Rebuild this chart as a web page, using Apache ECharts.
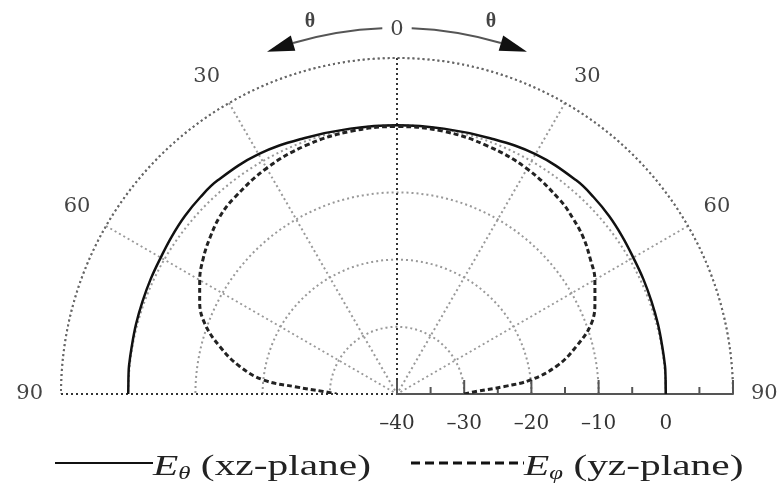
<!DOCTYPE html>
<html>
<head>
<meta charset="utf-8">
<script src="https://cdn.jsdelivr.net/npm/echarts@6/dist/echarts.min.js"></script>
<style>
  html, body { margin: 0; padding: 0; background: #fff; }
  #chart { width: 784px; height: 493px; }
</style>
</head>
<body>
<div id="chart"></div>
<script>
// Elevation angle (deg): positive to the left of broadside, negative to the right
const angles = [-90, -88, -86, -84, -80, -75, -70, -65, -60, -55, -50, -45, -40, -30, -20, -10, 0,
                10, 20, 30, 40, 45, 50, 55, 60, 65, 70, 75, 80, 84, 86, 88, 90];

// E-theta, xz-plane (dB)
const eTheta = [0, 0, 0.05, 0.1, 0.1, 0.2, 0.3, 0.45, 0.6, 0.9, 1.2, 1.4, 1.5, 1.2, 0.5, 0.1, 0,
                0.1, 0.5, 1.2, 1.5, 1.4, 1.2, 0.9, 0.6, 0.45, 0.3, 0.2, 0.1, 0.1, 0.05, 0, 0];

// E-phi, yz-plane (dB)
const ePhi = [-30, -28, -24, -20, -15.8, -12.3, -9.2, -7.5, -6.0, -4.9, -3.8, -3.0, -2.3, -1.3, -0.7, -0.3, -0.2,
              -0.3, -0.6, -1.2, -2.1, -2.7, -3.7, -4.8, -6.1, -7.6, -9.6, -12.7, -16.2, -20, -25, -29, -31];

// Angle and radius scales
const angleTicks = { min: -90, max: 90, step: 30 };
const radiusTicks = { min: -40, max: 10, step: 10 };
// Tick marks along the radial baseline (dB)
const radialTickValues = [-40, -35, -30, -25, -20, -15, -10, -5, 0, 5, 10];

// Legend entries
const legendItems = [
  { sub: 'θ', plane: ' (xz-plane)', dash: null },
  { sub: 'φ', plane: ' (yz-plane)', dash: [9, 5] }
];

const CENTER = [397, 394];
const RADIUS = 336;
const SERIF = '"Liberation Serif", "Times New Roman", serif';
const LABEL_FONT = '"DejaVu Serif", serif';

function pairs(values) {
  return angles.map((a, i) => [values[i], a]);
}

// Curved "theta" arrows around the broadside label
function arrowGraphics() {
  const r = 366;
  const toXY = (deg, rad) => {
    const t = (90 + deg) * Math.PI / 180;
    return [CENTER[0] + rad * Math.cos(t), CENTER[1] - rad * Math.sin(t)];
  };
  const items = [];
  [1, -1].forEach(side => {
    const a0 = 2.3 * side, a1 = 16.5 * side, tip = 20.8 * side;
    const s0 = -(90 + a0) * Math.PI / 180, s1 = -(90 + a1) * Math.PI / 180;
    items.push({
      type: 'arc',
      shape: { cx: CENTER[0], cy: CENTER[1], r: r, startAngle: Math.min(s0, s1), endAngle: Math.max(s0, s1) },
      style: { stroke: '#555', lineWidth: 2, fill: null },
      silent: true
    });
    const p1 = toXY(a1, r - 8), p2 = toXY(a1, r + 8), pt = toXY(tip, r);
    items.push({
      type: 'polygon',
      shape: { points: [p1, p2, pt] },
      style: { fill: '#111' },
      silent: true
    });
  });
  [[310, 22], [491, 22]].forEach(p => items.push({
    type: 'text',
    style: { text: 'θ', x: p[0], y: p[1], align: 'center', verticalAlign: 'middle',
             font: 'bold 20px ' + SERIF, fill: '#444' },
    silent: true
  }));
  return items;
}

// Legend: line sample followed by the field name with its subscript
function legendGraphics() {
  const rowY = 463;
  const starts = [[55, 153], [411, 524]];
  const items = [];
  legendItems.forEach((it, i) => {
    const [x0, x1] = starts[i];
    items.push({
      type: 'line',
      shape: { x1: x0, y1: rowY, x2: x1, y2: rowY },
      style: { stroke: '#111', lineWidth: it.dash ? 3 : 1.8, lineDash: it.dash || null },
      silent: true
    });
    items.push({
      type: 'text',
      x: x1, y: rowY + 4,
      scaleX: 1.38,
      style: {
        text: '{e|E}{s|' + it.sub + '}{t|' + it.plane + '}',
        verticalAlign: 'middle',
        rich: {
          e: { fontFamily: SERIF, fontStyle: 'italic', fontSize: 30, fill: '#222' },
          s: { fontFamily: SERIF, fontStyle: 'italic', fontSize: 18, fill: '#222', padding: [14, 0, 0, 0] },
          t: { fontFamily: SERIF, fontSize: 30, fill: '#222' }
        }
      },
      silent: true
    });
  });
  return items;
}

const chart = echarts.init(document.getElementById('chart'), null, { renderer: 'canvas' });

chart.setOption({
  animation: false,
  backgroundColor: '#fff',
  polar: { center: CENTER, radius: RADIUS },
  angleAxis: {
    type: 'value',
    min: angleTicks.min,
    max: angleTicks.max,
    interval: angleTicks.step,
    startAngle: 0,
    endAngle: 180,
    clockwise: false,
    axisLine: { show: true, lineStyle: { color: '#666', width: 2, type: [2, 3] } },
    axisTick: { show: false },
    axisLabel: {
      margin: 18,
      fontFamily: LABEL_FONT,
      fontSize: 21,
      color: '#444',
      formatter: v => String(Math.abs(v))
    },
    splitLine: {
      show: true,
      lineStyle: { color: ['#333', '#999', '#999', '#333', '#999', '#999', '#333'], width: 2, type: [2, 3] }
    }
  },
  radiusAxis: {
    type: 'value',
    min: radiusTicks.min,
    max: radiusTicks.max,
    interval: radiusTicks.step,
    axisLine: { show: true, lineStyle: { color: '#555', width: 2 } },
    axisTick: { show: false },
    axisLabel: {
      // negative margin moves the labels below the baseline
      margin: -30,
      verticalAlign: 'middle',
      fontFamily: LABEL_FONT,
      fontSize: 20,
      color: '#333',
      formatter: v => (v >= radiusTicks.max ? '' : (v < 0 ? '\u2013' + Math.abs(v) : String(v)))
    },
    splitLine: { show: true, lineStyle: { color: '#999', width: 2, type: [2, 3] } }
  },
  series: [
    {
      name: 'E\u03b8 (xz-plane)',
      type: 'line',
      coordinateSystem: 'polar',
      data: pairs(eTheta),
      smooth: 0.4,
      symbol: 'none',
      lineStyle: { color: '#111', width: 2.5 },
      z: 3
    },
    {
      name: 'E\u03c6 (yz-plane)',
      type: 'line',
      coordinateSystem: 'polar',
      data: pairs(ePhi),
      smooth: 0.4,
      symbol: 'none',
      lineStyle: { color: '#222', width: 3, type: [5, 3] },
      z: 3
    },
    {
      // upward tick marks on the radial baseline
      name: 'radial ticks',
      type: 'custom',
      coordinateSystem: 'polar',
      silent: true,
      data: radialTickValues.map(v => [v, angleTicks.min]),
      renderItem: (params, api) => {
        const v = api.value(0);
        const p = api.coord([v, api.value(1)]);
        const len = v % 10 === 0 ? 14 : 7;
        return {
          type: 'line',
          shape: { x1: p[0], y1: p[1], x2: p[0], y2: p[1] - len },
          style: { stroke: '#555', lineWidth: 2 }
        };
      },
      z: 2
    }
  ],
  graphic: arrowGraphics().concat(legendGraphics())
});
</script>
</body>
</html>
